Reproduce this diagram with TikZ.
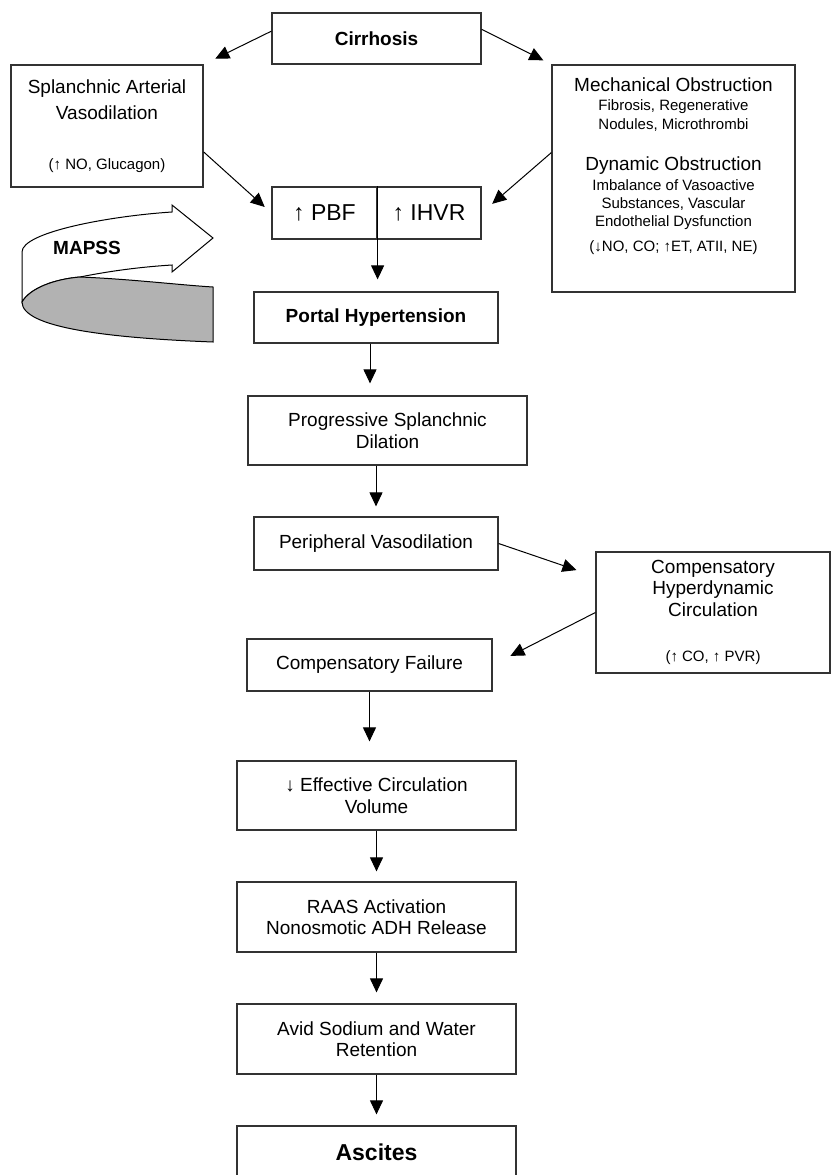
\documentclass[tikz,border=0pt]{standalone}
\usepackage{fontspec}
\setmainfont{Liberation Sans}
\usetikzlibrary{arrows.meta}
\newcommand{\smalltxt}{\fontsize{15}{18}\selectfont}
\newcommand{\headtxt}{\fontsize{19}{22}\selectfont}
\tikzset{
  >={Triangle[length=14pt,width=13pt]},
  box/.style={draw=black!80, line width=1.2pt, align=center, inner sep=2pt,
    font=\fontsize{19}{21.5}\selectfont},
  boldbox/.style={box, font=\bfseries\fontsize{19}{22}\selectfont},
  link/.style={->, line width=1pt, black}
}

\begin{document}
\begin{tikzpicture}[x=1pt, y=-1pt]
    \useasboundingbox (0,0) rectangle (832,1175);
    \clip (0,0) rectangle (832,1175);

    % MAPSS band
    \draw[line width=1pt, fill=white] (172,212) .. controls (110,216) and (22,232) .. (22,252)
      -- (22,302) .. controls (30,288) and (55,279) .. (80,277)
      .. controls (110,271) and (140,267) .. (172,265)
      -- (172,272) -- (213,238) -- (172,205) -- cycle;
    \draw[line width=1pt, fill=black!30] (22,302) .. controls (30,288) and (55,279) .. (80,277)
      .. controls (130,279) and (180,285) .. (213,287) -- (213,342)
      .. controls (110,338) and (22,328) .. (22,302) -- cycle;
    \node[font=\bfseries\headtxt] (mapss) at (87,248) {MAPSS};

    \node[boldbox, minimum width=209pt, minimum height=51pt] (cirr) at (376.5,38.5) {Cirrhosis};
    \node[box, minimum width=192pt, minimum height=122pt, font=\fontsize{19}{26}\selectfont]
      (splanch) at (107,126)
      {Splanchnic Arterial\\Vasodilation\\[24pt]{\smalltxt(↑ NO, Glucagon)}};
    \node[box, minimum width=243pt, minimum height=227pt, font=\smalltxt] (mech) at (673.5,178.5)
      {{\headtxt Mechanical Obstruction}\\[1pt]
       Fibrosis, Regenerative\\[1pt]
       Nodules, Microthrombi\\[23pt]
       {\headtxt Dynamic Obstruction}\\[2pt]
       Imbalance of Vasoactive\\
       Substances, Vascular\\
       Endothelial Dysfunction\\[7pt]
       (↓NO, CO; ↑ET, ATII, NE)\\[10pt]\mbox{}};
    \node[box, minimum width=105pt, minimum height=52pt, font=\fontsize{23}{26}\selectfont]
      (pbf) at (324.5,213) {↑ PBF};
    \node[box, minimum width=104pt, minimum height=52pt, font=\fontsize{23}{26}\selectfont]
      (ihvr) at (429,213) {↑ IHVR};
    \node[boldbox, minimum width=244pt, minimum height=51pt] (portal) at (376,317.5) {Portal Hypertension};
    \node[box, minimum width=279pt, minimum height=69pt] (prog) at (387.5,430.5)
      {Progressive Splanchnic\\Dilation};
    \node[box, minimum width=244pt, minimum height=53pt] (periph) at (376,543.5) {Peripheral Vasodilation};
    \node[box, minimum width=234pt, minimum height=121pt] (hyper) at (713,612.5)
      {Compensatory\\Hyperdynamic\\Circulation\\[24pt]{\smalltxt(↑ CO, ↑ PVR)}};
    \node[box, minimum width=245pt, minimum height=52pt] (compfail) at (369.5,665) {Compensatory Failure};
    \node[box, minimum width=279pt, minimum height=69pt] (ecv) at (376.5,795.5)
      {↓ Effective Circulation\\Volume};
    \node[box, minimum width=279pt, minimum height=70pt] (raas) at (376.5,917)
      {RAAS Activation\\Nonosmotic ADH Release};
    \node[box, minimum width=279pt, minimum height=70pt] (avid) at (376.5,1039)
      {Avid Sodium and Water\\Retention};
    \node[box, minimum width=279pt, minimum height=52pt, font=\bfseries\fontsize{23}{26}\selectfont]
      (ascites) at (376.5,1152) {Ascites};

    \path[link]
    (cirr.176)
      edge [shorten >=13pt] (splanch.north east)
    (cirr.5)
      edge [shorten >=9pt] (mech.north west)
    (splanch.-15)
      edge [shorten >=9pt] (pbf.west)
    (mech.168)
      edge [shorten >=14pt] (ihvr.east)
    (pbf.north east)
      edge [shorten >=12pt] (pbf.north east |- portal.north)
    ([xshift=-6pt]portal.south)
      edge [shorten >=12pt] ([xshift=-6pt]portal.south |- prog.north)
    (prog.south -| periph.north)
      edge [shorten >=10pt] (periph.north)
    (periph.east)
      edge [shorten >=20pt] (hyper.163)
    (hyper.west)
      edge [shorten >=20pt] (compfail.east)
    (compfail.south)
      edge [shorten >=19pt] (compfail.south |- ecv.north)
    (ecv.south)
      edge [shorten >=10pt] (raas.north)
    (raas.south)
      edge [shorten >=11pt] (avid.north)
    (avid.south)
      edge [shorten >=11pt] (ascites.north)
    ;
\end{tikzpicture}
\end{document}
